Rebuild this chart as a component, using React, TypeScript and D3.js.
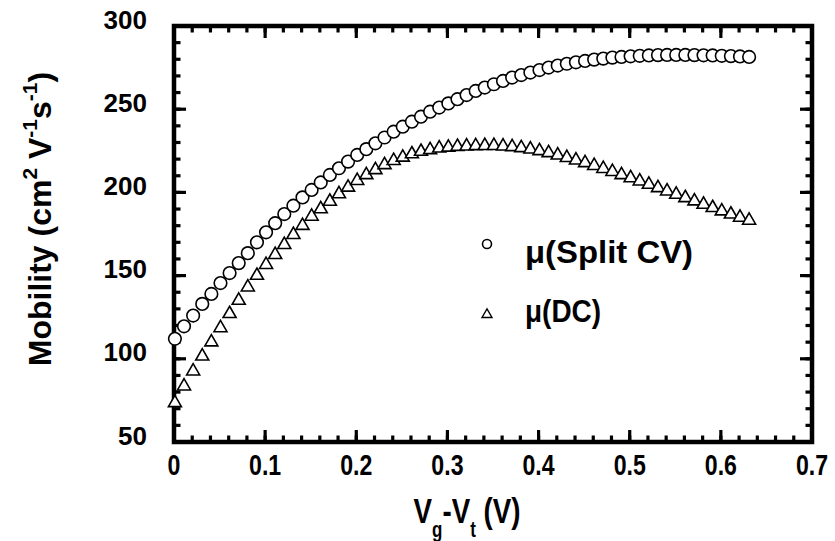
import React from "react";
import * as d3 from "d3";

const W = 835;
const H = 541;

// Vg - Vt (V) for each measured point
const vgvt: number[] = [
  0.001, 0.011, 0.021, 0.031, 0.041, 0.051, 0.061, 0.071, 0.081, 0.091,
  0.101, 0.111, 0.121, 0.131, 0.141, 0.151, 0.161, 0.171, 0.181, 0.191,
  0.201, 0.211, 0.221, 0.231, 0.241, 0.251, 0.261, 0.271, 0.281, 0.291,
  0.301, 0.311, 0.321, 0.331, 0.341, 0.351, 0.361, 0.371, 0.381, 0.391,
  0.401, 0.411, 0.421, 0.431, 0.441, 0.451, 0.461, 0.471, 0.481, 0.491,
  0.501, 0.511, 0.521, 0.531, 0.541, 0.551, 0.561, 0.571, 0.581, 0.591,
  0.601, 0.611, 0.621, 0.631,
];

// mobility from split CV (circles)
const muSplitCV: number[] = [
  112, 119.5, 126, 133, 139, 145.5, 151.5, 157.5, 163.5, 170,
  176, 181.5, 187, 192, 197, 201.5, 206, 210.5, 214.5, 218.5,
  222.5, 226, 229.5, 233, 236.5, 239.5, 242.5, 245.5, 248.5, 251,
  253.5, 256, 258.5, 261, 263, 265, 267, 269, 270.5, 272,
  273.5, 275, 276.2, 277.3, 278.2, 279, 279.8, 280.4, 281, 281.4,
  281.8, 282.1, 282.3, 282.5, 282.6, 282.6, 282.6, 282.5, 282.4, 282.3,
  282.1, 281.9, 281.7, 281.4,
];

// mobility from DC (triangles)
const muDC: number[] = [
  74, 84, 93, 102, 110.5, 119, 127.5, 135.5, 143.5, 150.5,
  157, 163, 169, 175, 180.5, 186, 190.5, 195, 199.5, 203.5,
  207.5, 211, 214, 217, 219.5, 221.5, 223.5, 225, 226, 227,
  227.5, 228, 228.2, 228.4, 228.5, 228.5, 228.2, 227.8, 227.2, 226.4,
  225.4, 224.2, 222.8, 221.3, 219.8, 218.2, 216.5, 214.7, 212.9, 211,
  209.1, 207.2, 205.2, 203.2, 201.2, 199.2, 197.2, 195.2, 193.2, 191.2,
  189.2, 187.3, 185.4, 183.6,
];

const xTickLabels: string[] = ["0", "0.1", "0.2", "0.3", "0.4", "0.5", "0.6", "0.7"];
const yTickValues: number[] = [50, 100, 150, 200, 250, 300];
const legendLabels: string[] = ["\u03bc(Split CV)", "\u03bc(DC)"];

const FONT = "Arial, 'Liberation Sans', Helvetica, sans-serif";

export default function App() {
  const left = 174, right = 812, top = 26, bottom = 442;
  const x = d3.scaleLinear().domain([0, 0.7]).range([left, right]);
  const y = d3.scaleLinear().domain([50, 300]).range([bottom, top]);

  const xMajor = d3.range(0, 0.7001, 0.1);
  const xMinor = d3.range(0, 0.7001, 0.02);
  const yMajor = yTickValues;
  const yMinor = d3.range(50, 300.001, 10);

  const triPath = (cx: number, cy: number, s: number) => {
    const h = s * 0.87;
    return `M${cx},${cy - h * 0.6}L${cx + s / 2},${cy + h * 0.4}L${cx - s / 2},${cy + h * 0.4}Z`;
  };

  const tickW = 3.2;
  const majL = 12;
  const minL = 6.5;

  return (
    <svg width={W} height={H} style={{ position: "absolute", left: 0, top: 0, background: "#fff" }}>
      <rect x={0} y={0} width={W} height={H} fill="#fff" />
      {/* minor ticks */}
      {xMinor.map((v, i) => (
        <g key={"xm" + i}>
          <line x1={x(v)} x2={x(v)} y1={bottom} y2={bottom - minL} stroke="#000" strokeWidth={tickW} />
          <line x1={x(v)} x2={x(v)} y1={top} y2={top + minL} stroke="#000" strokeWidth={tickW} />
        </g>
      ))}
      {yMinor.map((v, i) => (
        <g key={"ym" + i}>
          <line x1={left} x2={left + minL} y1={y(v)} y2={y(v)} stroke="#000" strokeWidth={tickW} />
          <line x1={right} x2={right - minL} y1={y(v)} y2={y(v)} stroke="#000" strokeWidth={tickW} />
        </g>
      ))}
      {xMajor.map((v, i) => (
        <g key={"xM" + i}>
          <line x1={x(v)} x2={x(v)} y1={bottom} y2={bottom - majL} stroke="#000" strokeWidth={tickW} />
          <line x1={x(v)} x2={x(v)} y1={top} y2={top + majL} stroke="#000" strokeWidth={tickW} />
        </g>
      ))}
      {yMajor.map((v, i) => (
        <g key={"yM" + i}>
          <line x1={left} x2={left + majL} y1={y(v)} y2={y(v)} stroke="#000" strokeWidth={tickW} />
          <line x1={right} x2={right - majL} y1={y(v)} y2={y(v)} stroke="#000" strokeWidth={tickW} />
        </g>
      ))}
      <rect x={left} y={top} width={right - left} height={bottom - top} fill="none" stroke="#000" strokeWidth={4.5} />

      {/* x tick labels (condensed) */}
      {xTickLabels.map((t, i) => (
        <text
          key={"xl" + i}
          transform={`translate(${x(i * 0.1)},475) scale(0.77,1)`}
          textAnchor="middle"
          fontFamily={FONT}
          fontWeight="bold"
          fontSize={30}
          fill="#000"
        >
          {t}
        </text>
      ))}
      {/* y tick labels */}
      {yTickValues.map((v, i) => (
        <text
          key={"yl" + i}
          x={147}
          y={y(v) + 2.5}
          textAnchor="end"
          fontFamily={FONT}
          fontWeight="bold"
          fontSize={26}
          fill="#000"
        >
          {v}
        </text>
      ))}

      {/* x title */}
      <g transform="translate(467,523) scale(0.77,1)">
        <text textAnchor="middle" fontFamily={FONT} fontWeight="bold" fontSize={36} fill="#000">
          <tspan>V</tspan>
          <tspan fontSize={22} dy={14}>g</tspan>
          <tspan dy={-14}>-V</tspan>
          <tspan fontSize={22} dy={14}>t</tspan>
          <tspan dy={-14}> (V)</tspan>
        </text>
      </g>

      {/* y title */}
      <g transform="translate(51,219) rotate(-90)">
        <text textAnchor="middle" fontFamily={FONT} fontWeight="bold" fontSize={32} fill="#000">
          <tspan>Mobility (cm</tspan>
          <tspan fontSize={21} dy={-14}>2</tspan>
          <tspan dy={14}> V</tspan>
          <tspan fontSize={21} dy={-14}>-1</tspan>
          <tspan dy={14}>s</tspan>
          <tspan fontSize={21} dy={-14}>-1</tspan>
          <tspan dy={14}>)</tspan>
        </text>
      </g>

      {/* data: triangles */}
      {vgvt.map((v, i) => (
        <path key={"t" + i} d={triPath(x(v), y(muDC[i]), 13)} fill="#fff" stroke="#000" strokeWidth={1.6} />
      ))}
      {/* data: circles */}
      {vgvt.map((v, i) => (
        <circle key={"c" + i} cx={x(v)} cy={y(muSplitCV[i])} r={6.3} fill="#fff" stroke="#000" strokeWidth={1.6} />
      ))}

      {/* legend */}
      <circle cx={487} cy={244} r={4.5} fill="#fff" stroke="#000" strokeWidth={1.6} />
      <path d={triPath(487, 314, 10)} fill="#fff" stroke="#000" strokeWidth={1.4} />
      <text x={525} y={263} fontFamily={FONT} fontWeight="bold" fontSize={31} fill="#000" textLength={168} lengthAdjust="spacingAndGlyphs">
        {legendLabels[0]}
      </text>
      <text x={525} y={322} fontFamily={FONT} fontWeight="bold" fontSize={31} fill="#000" textLength={76} lengthAdjust="spacingAndGlyphs">
        {legendLabels[1]}
      </text>
    </svg>
  );
}
